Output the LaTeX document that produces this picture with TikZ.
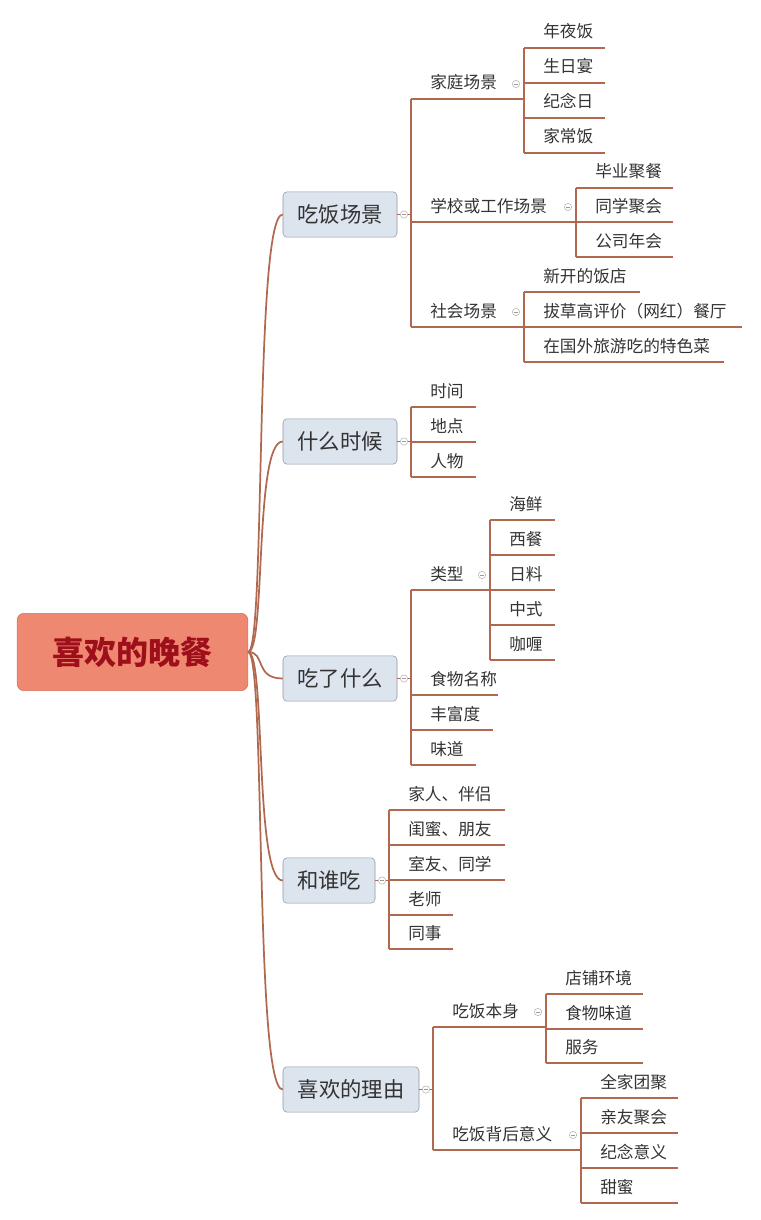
\documentclass[tikz,border=0pt]{standalone}
\usepackage{fontspec}
\setmainfont{Noto Sans CJK SC}
\definecolor{branchc}{HTML}{B0684F}
\definecolor{rootfill}{HTML}{EF8870}
\definecolor{rootdraw}{HTML}{D4705E}
\definecolor{roottext}{HTML}{9E0F1C}
\definecolor{topicfill}{HTML}{DCE4EE}
\definecolor{topicdraw}{HTML}{8E96A6}
\tikzset{
	branch/.style={draw=branchc, line width=1.3pt},
	leaftext/.style={inner sep=0pt, text=black!80, font=\fontsize{12.5}{14}\selectfont},
	topic/.style={draw=topicdraw, fill=topicfill, rounded corners=3pt, text=black!80,
		font=\fontsize{16}{18}\selectfont, inner sep=0pt, minimum height=34pt},
	toggle/.style={circle, draw=black!30, fill=white, inner sep=0pt, minimum size=5.5pt,
		path picture={\draw[black!40] ([xshift=-1.5pt]path picture bounding box.center) -- ([xshift=1.5pt]path picture bounding box.center);}}
}
% bracket x, underline y, end x, text, name
\newcommand\leaf[5]{%
	\draw[branch] (#1,#2) -- (#3,#2);
	\node[leaftext, anchor=base west] (#5) at (#1+19,#2-10) {#4};
}
\begin{document}
\begin{tikzpicture}[x=0.75pt, y=-0.75pt]
	\useasboundingbox (0,0) rectangle (760,1220);

	\node[draw=rootdraw, fill=rootfill, rounded corners=5pt, minimum width=173pt, minimum height=58pt,
		text=roottext, font=\fontsize{24}{28}\selectfont\bfseries] (root) at (132.5,652) {喜欢的晚餐};

	\node[topic, minimum width=85.5pt] (scene) at (340,214.5) {吃饭场景};
	\node[topic, minimum width=85.5pt] (when) at (340,441.5) {什么时候};
	\node[topic, minimum width=85.5pt] (what) at (340,678.5) {吃了什么};
	\node[topic, minimum width=69pt] (who) at (329,880.5) {和谁吃};
	\node[topic, minimum width=102pt] (why) at (351,1089.5) {喜欢的理由};

	\foreach \t in {scene,when,what,who,why}
	{
		\draw[branch] (root.east) .. controls (266,652) and (254,0|-\t.west) .. (\t.west);
	}

	% 吃饭场景
	\draw[branch] (scene.east) -- (411,214.5);
	\draw[branch] (411,99) -- (411,327);
	\leaf{411}{99}{524}{家庭场景}{home}
	\leaf{411}{222}{576}{学校或工作场景}{school}
	\leaf{411}{327}{524}{社会场景}{society}
	\draw[branch] (524,48) -- (524,153);
	\leaf{524}{48}{605}{年夜饭}{h1}
	\leaf{524}{83}{605}{生日宴}{h2}
	\leaf{524}{118}{605}{纪念日}{h3}
	\leaf{524}{153}{605}{家常饭}{h4}
	\draw[branch] (576,188) -- (576,257);
	\leaf{576}{188}{673}{毕业聚餐}{s1}
	\leaf{576}{222}{673}{同学聚会}{s2}
	\leaf{576}{257}{673}{公司年会}{s3}
	\draw[branch] (524,292) -- (524,362);
	\leaf{524}{292}{640}{新开的饭店}{c1}
	\leaf{524}{327}{742}{拔草高评价（网红）餐厅}{c2}
	\leaf{524}{362}{724}{在国外旅游吃的特色菜}{c3}

	% 什么时候
	\draw[branch] (when.east) -- (411,441.5);
	\draw[branch] (411,407) -- (411,477);
	\leaf{411}{407}{476}{时间}{w1}
	\leaf{411}{442}{476}{地点}{w2}
	\leaf{411}{477}{476}{人物}{w3}

	% 吃了什么
	\draw[branch] (what.east) -- (411,678.5);
	\draw[branch] (411,590) -- (411,765);
	\leaf{411}{590}{490}{类型}{kind}
	\leaf{411}{695}{498}{食物名称}{e2}
	\leaf{411}{730}{493}{丰富度}{e3}
	\leaf{411}{765}{476}{味道}{e4}
	\draw[branch] (490,520) -- (490,660);
	\leaf{490}{520}{555}{海鲜}{k1}
	\leaf{490}{555}{555}{西餐}{k2}
	\leaf{490}{590}{555}{日料}{k3}
	\leaf{490}{625}{555}{中式}{k4}
	\leaf{490}{660}{555}{咖喱}{k5}

	% 和谁吃
	\draw[branch] (who.east) -- (389,880.5);
	\draw[branch] (389,810) -- (389,949);
	\leaf{389}{810}{505}{家人、伴侣}{p1}
	\leaf{389}{845}{505}{闺蜜、朋友}{p2}
	\leaf{389}{880}{505}{室友、同学}{p3}
	\leaf{389}{915}{453}{老师}{p4}
	\leaf{389}{949}{453}{同事}{p5}

	% 喜欢的理由
	\draw[branch] (why.east) -- (433,1089.5);
	\draw[branch] (433,1027) -- (433,1150);
	\leaf{433}{1027}{546}{吃饭本身}{self}
	\leaf{433}{1150}{581}{吃饭背后意义}{mean}
	\draw[branch] (546,994) -- (546,1063);
	\leaf{546}{994}{643}{店铺环境}{r1}
	\leaf{546}{1029}{643}{食物味道}{r2}
	\leaf{546}{1063}{643}{服务}{r3}
	\draw[branch] (581,1098) -- (581,1203);
	\leaf{581}{1098}{678}{全家团聚}{m1}
	\leaf{581}{1133}{678}{亲友聚会}{m2}
	\leaf{581}{1168}{678}{纪念意义}{m3}
	\leaf{581}{1203}{678}{甜蜜}{m4}

	% collapse toggles
	\foreach \x/\y in {404/214.5,516/84,568/207,516/312,404/441.5,404/678.5,482/575,382/880.5,426/1089.5,538/1012,573/1135}
	{
		\node[toggle] at (\x,\y) {};
	}
\end{tikzpicture}
\end{document}
